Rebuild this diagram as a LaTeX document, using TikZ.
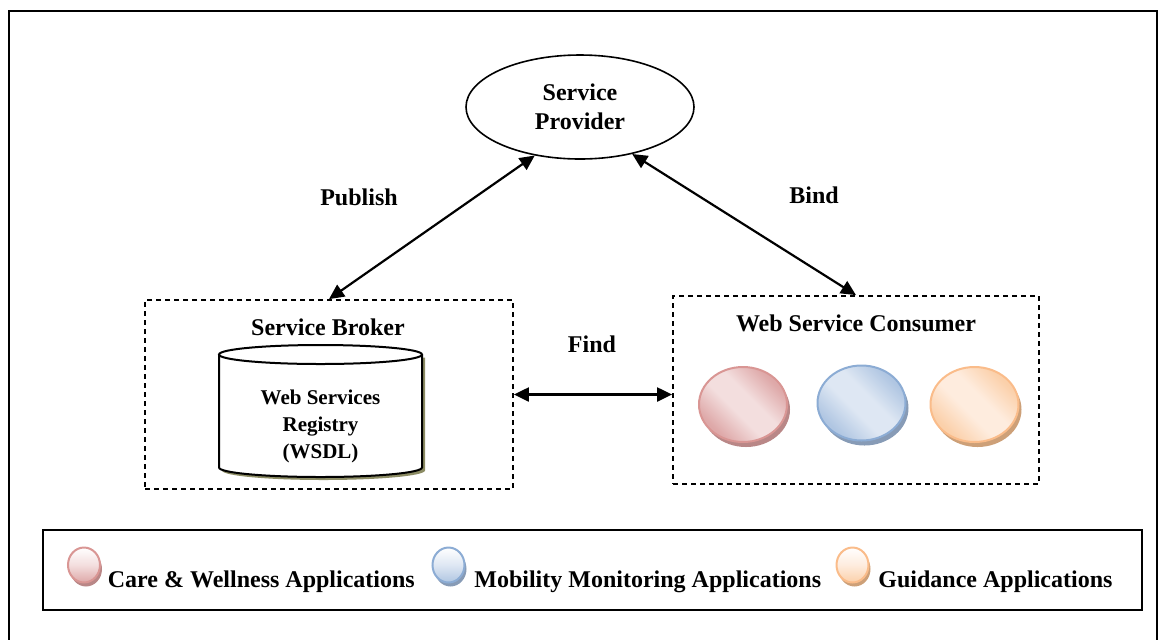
\documentclass[tikz,border=0pt]{standalone}
\usepackage{fontspec}
\setmainfont{Liberation Serif}
\usetikzlibrary{shapes.geometric,arrows.meta}

% colours of the three application families
\definecolor{rborder}{RGB}{217,150,148}
\definecolor{rlight}{RGB}{243,222,222}
\definecolor{rdark}{RGB}{222,168,168}
\definecolor{rshadow}{RGB}{185,135,135}
\definecolor{bborder}{RGB}{140,172,212}
\definecolor{blight}{RGB}{222,231,243}
\definecolor{bdark}{RGB}{176,198,226}
\definecolor{bshadow}{RGB}{135,155,182}
\definecolor{oborder}{RGB}{250,188,138}
\definecolor{olight}{RGB}{254,236,222}
\definecolor{odark}{RGB}{251,208,170}
\definecolor{oshadow}{RGB}{205,160,120}
\definecolor{cylshadow}{RGB}{140,140,100}

% diagonal sheen on the application discs: darker rims, light band across the middle
\pgfdeclareverticalshading{redface}{100bp}{color(0bp)=(rdark); color(27bp)=(rdark);
  color(44bp)=(rlight); color(56bp)=(rlight); color(73bp)=(rdark); color(100bp)=(rdark)}
\pgfdeclareverticalshading{blueface}{100bp}{color(0bp)=(bdark); color(27bp)=(bdark);
  color(44bp)=(blight); color(56bp)=(blight); color(73bp)=(bdark); color(100bp)=(bdark)}
\pgfdeclareverticalshading{orangeface}{100bp}{color(0bp)=(odark); color(27bp)=(odark);
  color(44bp)=(olight); color(56bp)=(olight); color(73bp)=(odark); color(100bp)=(odark)}

\begin{document}
\begin{tikzpicture}[x=0.5pt,y=-0.5pt,
  every node/.style={font=\fontsize{12}{14.5}\selectfont\bfseries, inner sep=0pt},
  arr/.style={line width=1.1pt,
    {Triangle[length=7.5pt,width=7pt]}-{Triangle[length=7.5pt,width=7pt]}},
  dbox/.style={draw, rectangle, line width=0.9pt, dash pattern=on 2.5pt off 2pt},
  bigdisc/.style={ellipse, minimum width=44pt, minimum height=37.5pt, line width=1pt},
  smalldisc/.style={ellipse, minimum width=16pt, minimum height=17.5pt, line width=1pt},
  facegrad/.style={shade, shading=#1, shading angle=-45},
  leggrad/.style n args={2}{top color=white, bottom color=#2, middle color=#1},
  lbl/.style={align=center}
]
\useasboundingbox (0,0) rectangle (1158,639);

% outer frame
\draw[line width=1pt] (9,650) -- (9,11) -- (1157,11) -- (1157,650);

% service provider
\node[draw, ellipse, line width=0.8pt, minimum width=114pt, minimum height=52pt, lbl]
  (sp) at (580,107) {Service\\Provider};

% service broker with its registry
\node[dbox, minimum width=184pt, minimum height=94.5pt] (broker) at (329,394.5) {};
\node (brokertitle) at (328,327) {Service Broker};
\fill[cylshadow] (222,357.5) -- (222,470.5)
  arc[start angle=180, end angle=360, x radius=50.75pt, y radius=4.75pt] -- (425,357.5) -- cycle;
\filldraw[fill=white, line width=1pt] (219,354.5) -- (219,467.5)
  arc[start angle=180, end angle=360, x radius=50.75pt, y radius=4.75pt] -- (422,354.5);
\draw[line width=1pt] (320.5,354.5) ellipse[x radius=50.75pt, y radius=4.75pt];
\node[lbl, font=\fontsize{10.5}{13.3}\selectfont\bfseries] (registry) at (320.5,426.5)
  {Web Services\\Registry\\(WSDL)};

% web service consumer with its applications
\node[dbox, minimum width=183pt, minimum height=94pt] (consumer) at (856,390) {};
\node (consumertitle) at (856,323) {Web Service Consumer};

\fill[rshadow] (746,409.5) ellipse[x radius=22pt, y radius=18.75pt];
\node[bigdisc, draw=rborder, facegrad=redface] (care) at (743,404.5) {};
\fill[bshadow] (864.5,408) ellipse[x radius=22pt, y radius=18.75pt];
\node[bigdisc, draw=bborder, facegrad=blueface] (mobility) at (861.5,403) {};
\fill[oshadow] (977.5,409.5) ellipse[x radius=22pt, y radius=18.75pt];
\node[bigdisc, draw=oborder, facegrad=orangeface] (guidance) at (974.5,404.5) {};

% interactions
\draw[arr] (sp.227) -- (broker.north);
\draw[arr] (sp.318) -- (consumer.north);
\draw[arr] (broker.east) -- (broker.east -| consumer.west);
\node (publish) at (359,197) {Publish};
\node (bind) at (814,195) {Bind};
\node (find) at (592,344) {Find};

% legend
\node[draw, rectangle, line width=1pt, minimum width=549.5pt, minimum height=40pt]
  (legend) at (592.5,570) {};
\fill[rshadow] (86,569) ellipse[x radius=8pt, y radius=8.75pt];
\node[smalldisc, draw=rborder, leggrad={rlight}{rdark}] (lcare) at (84,565) {};
\node[anchor=base west] (tcare) at (107.5,587) {Care \& Wellness Applications};
\fill[bshadow] (450.5,569) ellipse[x radius=8pt, y radius=8.75pt];
\node[smalldisc, draw=bborder, leggrad={blight}{bdark}] (lmobility) at (448.5,565) {};
\node[anchor=base west] (tmobility) at (474,587) {Mobility Monitoring Applications};
\fill[oshadow] (854.5,569) ellipse[x radius=8pt, y radius=8.75pt];
\node[smalldisc, draw=oborder, leggrad={olight}{odark}] (lguidance) at (852.5,565) {};
\node[anchor=base west] (tguidance) at (878,587) {Guidance Applications};
\end{tikzpicture}
\end{document}
